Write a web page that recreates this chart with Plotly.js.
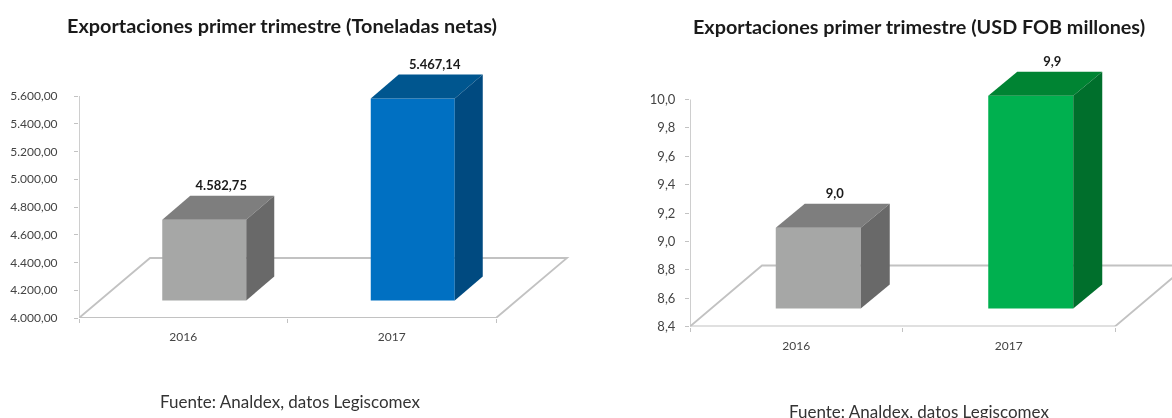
<!DOCTYPE html>
<html><head><meta charset="utf-8">
<script src="https://cdn.plot.ly/plotly-3.0.1.min.js"></script>
<style>html,body{margin:0;padding:0;background:#fff;overflow:hidden}#c{width:1172px;height:418px;filter:blur(0.45px)}</style>
</head><body><div id="c"></div>
<script>
var W = 1172, H = 418;
var categories = ["2016", "2017"];
var tonnes = [4582.75, 5456];
var tonnesLabels = ["4.582,75", "5.467,14"];
var tonnesTicks = [4000, 4200, 4400, 4600, 4800, 5000, 5200, 5400, 5600];
var tonnesTickText = ["4.000,00", "4.200,00", "4.400,00", "4.600,00", "4.800,00", "5.000,00", "5.200,00", "5.400,00", "5.600,00"];
var usd = [8.97, 9.9];
var usdLabels = ["9,0", "9,9"];
var usdTicks = [8.4, 8.6, 8.8, 9.0, 9.2, 9.4, 9.6, 9.8, 10.0];
var usdTickText = ["8,4", "8,6", "8,8", "9,0", "9,2", "9,4", "9,6", "9,8", "10,0"];
var grayFaces = ["#a6a7a6", "#7e7e7e", "#696969"];
var blueFaces = ["#0070c2", "#00568f", "#004a80"];
var greenFaces = ["#00b04f", "#008433", "#006f2c"];
var FONT = "Lato, 'Open Sans', sans-serif";
var AXIS = "#c2c2c2";

var traces = [], shapes = [];
function panel(o) {
  var xa = o.id === 1 ? "x" : "x2", ya = o.id === 1 ? "y" : "y2";
  var ymin = o.ticks[0], ymax = o.ticks[o.ticks.length - 1];
  var pxY = (ymax - ymin) / (o.bottom - o.top); // data units per pixel
  var pxX = 2 / (o.right - o.left);
  var fdx = o.floorDx * pxX, fdy = o.floorDy * pxY;
  var ddx = o.depthDx * pxX, ddy = o.depthDy * pxY;
  var lift = o.lift * pxY, shift = o.shift * pxX, bw = o.barW * pxX;
  function line(xs, ys, w) {
    shapes.push({type: "path", xref: xa, yref: ya, layer: "below",
      path: xs.map(function (x, i) { return (i ? "L" : "M") + x + " " + ys[i]; }).join(" "),
      line: {color: AXIS, width: w}});
  }
  line([-0.5, -0.5 + fdx, 1.5 + fdx, 1.5], [ymin, ymin + fdy, ymin + fdy, ymin], 1.8); // floor
  line([-0.5, 1.5], [ymin, ymin], 2);   // x axis line
  line([-0.5, -0.5], [ymin, ymax], 1.6);  // y axis line
  o.values.forEach(function (v, i) {
    var l = i + shift - bw / 2, r = l + bw, top = v + lift, bot = ymin + lift, f = o.colors[i];
    traces.push({type: "bar", xaxis: xa, yaxis: ya, hoverinfo: "skip",
      x: [l + bw / 2], y: [top - bot], base: [bot], width: [bw],
      marker: {color: f[0], line: {width: 0}}});
    traces.push({type: "scatter", mode: "lines", fill: "toself", xaxis: xa, yaxis: ya, hoverinfo: "skip",
      x: [l, l + ddx, r + ddx, r, l], y: [top, top + ddy, top + ddy, top, top],
      fillcolor: f[1], line: {width: 0, color: f[1]}});
    traces.push({type: "scatter", mode: "lines", fill: "toself", xaxis: xa, yaxis: ya, hoverinfo: "skip",
      x: [r, r + ddx, r + ddx, r, r], y: [top, top + ddy, bot + ddy, bot, top],
      fillcolor: f[2], line: {width: 0, color: f[2]}});
    traces.push({type: "scatter", mode: "text", xaxis: xa, yaxis: ya, hoverinfo: "skip",
      x: [l + bw / 2 + ddx / 2 + o.labelDx[i] * pxX], y: [top + ddy + 2 * pxY],
      text: [o.labels[i]], textposition: "top center",
      textfont: {family: FONT, size: 13, color: "#1a1a1a", weight: 700}});
  });
  var xaxis = {domain: [o.left / W, o.domRight / W], range: [-0.5, -0.5 + (o.domRight - o.left) * pxX],
    tickmode: "array", tickvals: [0, 1], ticktext: categories,
    ticks: "", showgrid: false, zeroline: false, showline: false,
    tickfont: {family: FONT, size: 12, color: "#444"}, ticklabelstandoff: 10, anchor: ya,
    minor: {ticks: "outside", ticklen: 4, tickcolor: AXIS, tickwidth: 1, tickmode: "array", tickvals: [-0.5, 0.5, 1.5], showgrid: false}};
  var yaxis = {domain: [1 - o.bottom / H, 1 - o.domTop / H], range: [ymin, ymin + (o.bottom - o.domTop) * pxY], tickmode: "array",
    tickvals: o.ticks, ticktext: o.tickText, ticks: "outside", ticklen: 4, tickcolor: AXIS, showgrid: false, zeroline: false,
    showline: false, tickfont: {family: FONT, size: o.tickSize, color: "#444"},
    ticklabelstandoff: o.standoff, anchor: xa};
  return {xaxis: xaxis, yaxis: yaxis};
}
var a = panel({id: 1, left: 79, right: 496, domRight: 600, top: 96, bottom: 318, domTop: 45, ticks: tonnesTicks, tickText: tonnesTickText,
  values: tonnes, labels: tonnesLabels, colors: [grayFaces, blueFaces], labelDx: [3, 8],
  floorDx: 71, floorDy: 60, depthDx: 28, depthDy: 24, lift: 17.5, shift: 21, barW: 84, standoff: 14, tickSize: 12});
var b = panel({id: 2, left: 690, right: 1115, domRight: 1172, top: 99.5, bottom: 326.5, domTop: 45, ticks: usdTicks, tickText: usdTickText,
  values: usd, labels: usdLabels, colors: [grayFaces, greenFaces], labelDx: [2, 7],
  floorDx: 72, floorDy: 61, depthDx: 29, depthDy: 24, lift: 18, shift: 22, barW: 85, standoff: 7, tickSize: 13});

function note(text, px, py, size, bold, color) {
  return {xref: "paper", yref: "paper", x: px / W, y: 1 - py / H, xanchor: "center", yanchor: "middle", showarrow: false,
    text: text, font: {family: FONT, size: size, color: color, weight: bold ? 700 : 400}};
}
Plotly.newPlot("c", traces, {
  width: W, height: H, margin: {l: 0, r: 0, t: 0, b: 0}, paper_bgcolor: "#fff", plot_bgcolor: "rgba(0,0,0,0)",
  showlegend: false, barmode: "overlay",
  xaxis: a.xaxis, yaxis: a.yaxis, xaxis2: b.xaxis, yaxis2: b.yaxis, shapes: shapes,
  annotations: [
    note("Exportaciones primer trimestre (Toneladas netas)", 281.5, 25, 19.85, true, "#1a1a1a"),
    note("Exportaciones primer trimestre (USD FOB millones)", 919, 26, 19.8, true, "#1a1a1a"),
    note("Fuente: Analdex, datos Legiscomex", 290, 401, 17, false, "#333"),
    note("Fuente: Analdex, datos Legiscomex", 919, 411, 17, false, "#333")
  ]
}, {staticPlot: true, displayModeBar: false});
</script></body></html>
